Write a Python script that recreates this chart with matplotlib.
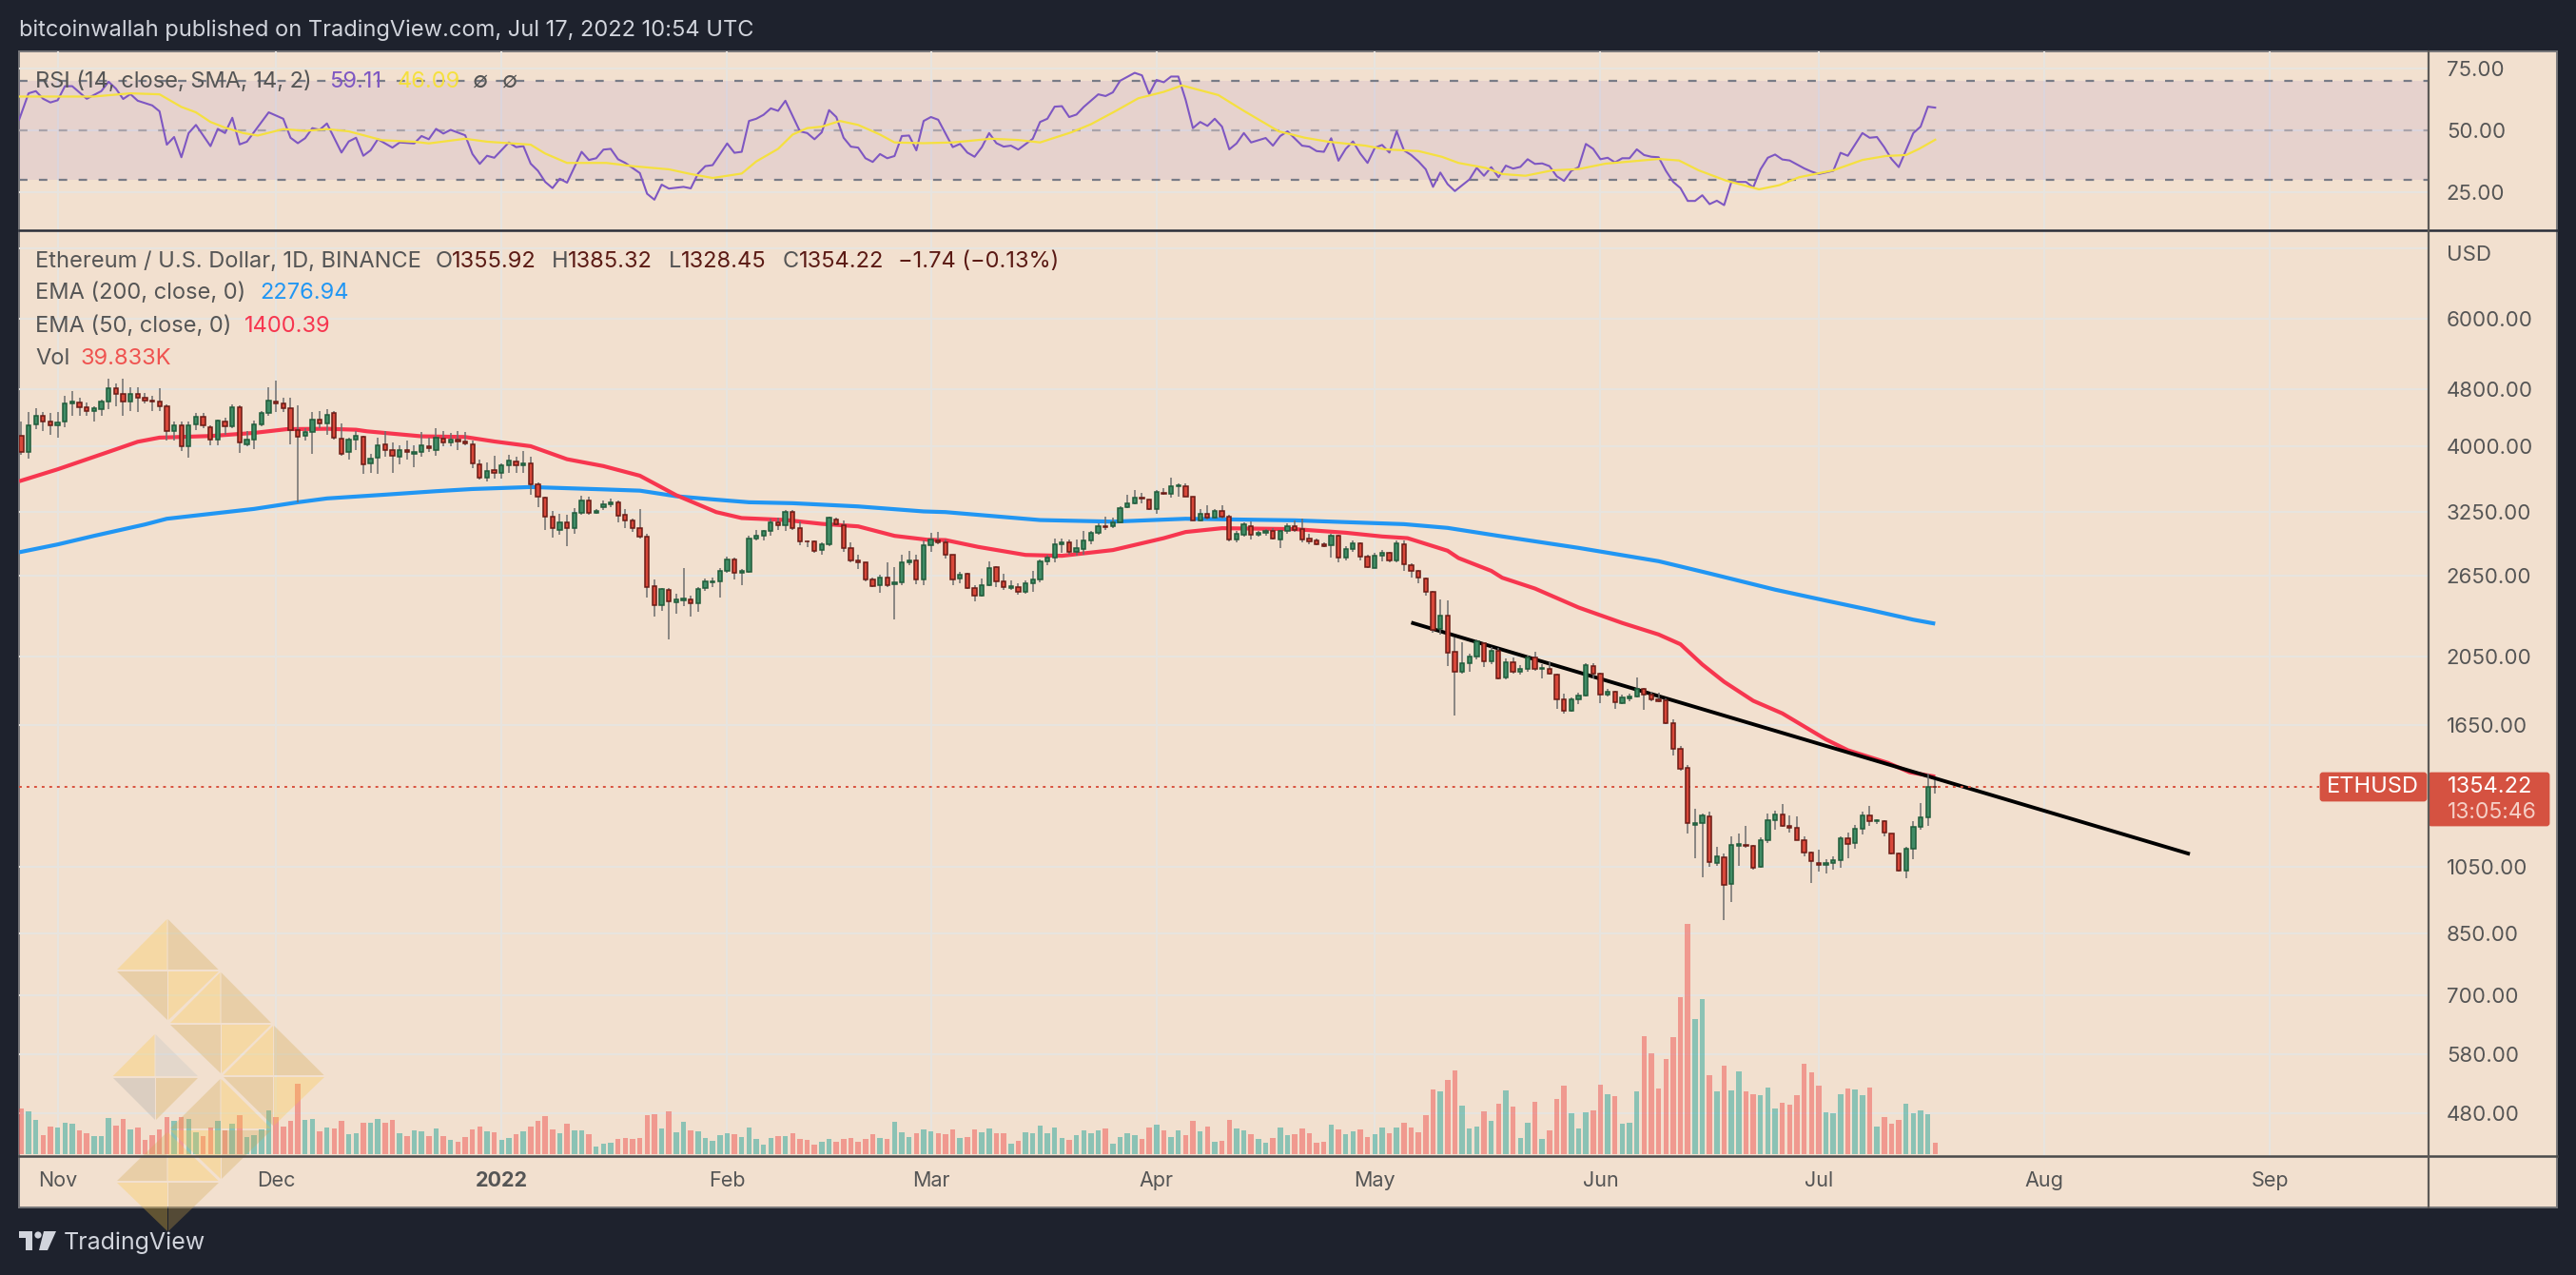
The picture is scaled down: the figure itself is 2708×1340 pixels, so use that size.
import matplotlib
matplotlib.use("Agg")
import matplotlib.pyplot as plt
from matplotlib.patches import Polygon, Rectangle, FancyBboxPatch, Circle

W, H = 2708, 1340

# days counted from 2021-11-01
days = list(range(-5, 259))
opens = [4134, 3927, 4290, 4413, 4326,
    4282, 4326, 4586, 4595, 4526, 4471, 4503, 4609, 4809, 4722,
    4619, 4722, 4665, 4632, 4619, 4549, 4205, 4282, 3998, 4295,
    4400, 4255, 4084, 4334, 4269, 4526, 4030, 4092, 4295, 4444,
    4619, 4582, 4512, 4217, 4134, 4188, 4352, 4299, 4444, 4105,
    3927, 4084, 4121, 3787, 3856, 4022, 3959, 3868, 3959, 3910,
    3935, 4006, 3959, 4105, 4047, 4092, 4068, 4022, 3783, 3622,
    3708, 3674, 3765, 3817, 3765, 3787, 3544, 3397, 3195, 3071,
    3146, 3084, 3243, 3367, 3234, 3302, 3326, 3346, 3217, 3159,
    3084, 3001, 2569, 2413, 2538, 2435, 2453, 2460, 2428, 2548,
    2600, 2603, 2690, 2791, 2680, 2688, 2988, 3010, 3053, 3143,
    3117, 3246, 3081, 2956, 2953, 2877, 2930, 3175, 3117, 2892,
    2783, 2763, 2619, 2571, 2635, 2582, 2597, 2766, 2783, 2619,
    2921, 2970, 2947, 2833, 2627, 2667, 2548, 2490, 2574, 2729,
    2603, 2548, 2561, 2516, 2587, 2619, 2774, 2813, 2933, 2947,
    2857, 2886, 2962, 3037, 3108, 3102, 3146, 3295, 3336, 3401,
    3377, 3276, 3448, 3445, 3519, 3519, 3404, 3165, 3227, 3192,
    3256, 3198, 2979, 3025, 3108, 3019, 3037, 3053, 2979, 3056,
    3102, 3078, 2982, 2964, 2930, 2918, 3010, 2805, 2883, 2938,
    2816, 2721, 2825, 2848, 2783, 2935, 2741, 2690, 2632, 2518,
    2236, 2335, 2080, 1954, 2008, 2051, 2140, 2018, 2090, 1917,
    2016, 1952, 1971, 2042, 1971, 1975, 1936, 1788, 1726, 1788,
    1811, 1993, 1940, 1817, 1832, 1771, 1798, 1805, 1853, 1815,
    1789, 1786, 1658, 1528, 1439, 1201, 1208, 1235, 1064, 1083,
    995, 1125, 1128, 1125, 1050, 1145, 1221, 1240, 1198, 1191,
    1145, 1100, 1065, 1058, 1065, 1075, 1151, 1133, 1186, 1238,
    1214, 1216, 1168, 1096, 1040, 1114, 1195, 1232, 1355.92]
highs = [4326, 4457, 4512, 4457, 4448,
    4457, 4698, 4770, 4665, 4596, 4549, 4642, 4960, 4880, 4960,
    4833, 4822, 4746, 4698, 4809, 4573, 4326, 4326, 4326, 4448,
    4448, 4282, 4361, 4378, 4573, 4559, 4196, 4347, 4480, 4822,
    4930, 4665, 4665, 4559, 4238, 4457, 4480, 4503, 4480, 4308,
    4113, 4196, 4134, 3911, 4113, 4196, 4051, 4010, 4072, 4010,
    4188, 4113, 4238, 4196, 4175, 4196, 4188, 4072, 3840, 3802,
    3883, 3787, 3891, 3872, 3943, 3872, 3565, 3414, 3256, 3230,
    3214, 3289, 3424, 3414, 3279, 3370, 3390, 3363, 3279, 3182,
    3279, 3028, 2619, 2548, 2548, 2506, 2721, 2490, 2561, 2627,
    2635, 2721, 2819, 2811, 2707, 3010, 3071, 3071, 3182, 3192,
    3269, 3269, 3149, 2964, 2964, 2950, 3198, 3192, 3159, 2950,
    2839, 2770, 2635, 2661, 2763, 2727, 2833, 2871, 2839, 2970,
    3040, 3047, 2973, 2839, 2685, 2680, 2574, 2630, 2777, 2735,
    2667, 2614, 2587, 2614, 2693, 2794, 2839, 2985, 2985, 2979,
    2979, 3056, 3056, 3133, 3198, 3192, 3312, 3431, 3482, 3448,
    3380, 3482, 3500, 3626, 3554, 3554, 3411, 3279, 3319, 3279,
    3319, 3214, 3053, 3139, 3149, 3062, 3078, 3087, 3071, 3133,
    3159, 3182, 3028, 2985, 2950, 3034, 3025, 2915, 2964, 2950,
    2839, 2848, 2877, 2862, 2964, 2964, 2760, 2704, 2640, 2526,
    2460, 2450, 2180, 2146, 2073, 2163, 2146, 2115, 2105, 2036,
    2042, 1995, 2057, 2084, 2005, 2022, 1942, 1822, 1800, 1828,
    2007, 2007, 1948, 1852, 1841, 1818, 1822, 1918, 1859, 1833,
    1828, 1795, 1682, 1545, 1454, 1266, 1247, 1253, 1119, 1097,
    1157, 1170, 1196, 1128, 1154, 1247, 1257, 1285, 1239, 1236,
    1157, 1105, 1111, 1077, 1088, 1159, 1173, 1202, 1253, 1276,
    1224, 1221, 1170, 1099, 1119, 1214, 1289, 1414, 1385.32]
lows = [3891, 3852, 4230, 4196, 4155,
    4113, 4255, 4413, 4413, 4413, 4334, 4413, 4503, 4549, 4413,
    4480, 4466, 4586, 4480, 4480, 4080, 4072, 3943, 3864, 4217,
    4238, 4014, 4014, 4146, 4238, 3921, 3998, 3971, 4260, 4413,
    4457, 4457, 4030, 3346, 4072, 3911, 4238, 4155, 4092, 3883,
    3840, 3951, 3670, 3682, 3663, 3872, 3674, 3776, 3832, 3749,
    3872, 3931, 3879, 3998, 3998, 3951, 4010, 3738, 3601, 3580,
    3608, 3608, 3682, 3682, 3682, 3431, 3302, 3071, 2991, 3022,
    2912, 3034, 3214, 3214, 3224, 3269, 3295, 3143, 3087, 3047,
    2988, 2475, 2326, 2375, 2164, 2352, 2406, 2326, 2368, 2528,
    2556, 2475, 2680, 2619, 2577, 2680, 2970, 2964, 3010, 3065,
    3062, 3065, 2921, 2906, 2848, 2839, 2915, 3111, 2857, 2763,
    2707, 2608, 2561, 2511, 2561, 2305, 2577, 2741, 2582, 2577,
    2857, 2927, 2798, 2577, 2587, 2543, 2448, 2480, 2566, 2561,
    2531, 2536, 2496, 2501, 2516, 2600, 2744, 2771, 2848, 2833,
    2827, 2839, 2927, 3025, 3065, 3087, 3133, 3285, 3326, 3340,
    3269, 3224, 3431, 3397, 3414, 3404, 3159, 3149, 3175, 3182,
    3178, 2959, 2950, 3004, 2979, 3001, 3010, 2973, 2892, 3034,
    3047, 2950, 2935, 2921, 2900, 2805, 2771, 2783, 2862, 2783,
    2715, 2715, 2777, 2771, 2771, 2693, 2635, 2587, 2490, 2213,
    2202, 1991, 1698, 1942, 1952, 2032, 1985, 2005, 1909, 1907,
    1942, 1938, 1956, 1962, 1913, 1936, 1738, 1709, 1721, 1765,
    1804, 1913, 1770, 1809, 1738, 1761, 1782, 1800, 1730, 1782,
    1773, 1653, 1499, 1428, 1170, 1080, 1016, 1053, 1054, 887,
    940, 1054, 1117, 1043, 1047, 1133, 1183, 1195, 1173, 1143,
    1088, 998, 1035, 1029, 1041, 1047, 1080, 1113, 1166, 1197,
    1206, 1159, 1093, 1037, 1014, 1076, 1183, 1197, 1328.45]
closes = [3931, 4282, 4413, 4326, 4282,
    4317, 4586, 4609, 4526, 4471, 4512, 4609, 4809, 4722, 4619,
    4722, 4665, 4632, 4619, 4549, 4205, 4282, 3998, 4282, 4400,
    4273, 4084, 4339, 4269, 4526, 4047, 4092, 4295, 4444, 4633,
    4582, 4512, 4217, 4121, 4188, 4352, 4308, 4426, 4109, 3903,
    4084, 4134, 3776, 3852, 4018, 3951, 3879, 3959, 3927, 3935,
    4010, 3975, 4113, 4051, 4092, 4059, 4034, 3787, 3626, 3704,
    3674, 3761, 3828, 3765, 3787, 3544, 3407, 3198, 3081, 3146,
    3084, 3237, 3367, 3237, 3256, 3326, 3346, 3208, 3159, 3084,
    3001, 2561, 2413, 2541, 2443, 2458, 2463, 2428, 2546, 2603,
    2608, 2690, 2791, 2677, 2690, 2988, 3010, 3053, 3139, 3117,
    3246, 3084, 2956, 2953, 2868, 2927, 3188, 3124, 2892, 2783,
    2763, 2619, 2566, 2635, 2577, 2597, 2766, 2783, 2619, 2921,
    2973, 2944, 2833, 2619, 2664, 2548, 2487, 2577, 2721, 2603,
    2556, 2564, 2516, 2587, 2619, 2774, 2813, 2933, 2947, 2857,
    2892, 2962, 3037, 3108, 3099, 3146, 3292, 3333, 3397, 3390,
    3276, 3458, 3438, 3519, 3530, 3407, 3165, 3227, 3188, 3260,
    3198, 2979, 3028, 3124, 3019, 3037, 3056, 2982, 3056, 3102,
    3071, 2979, 2959, 2930, 2915, 3010, 2805, 2886, 2938, 2816,
    2724, 2825, 2850, 2780, 2938, 2749, 2690, 2635, 2518, 2232,
    2339, 2075, 1954, 2008, 2051, 2153, 2020, 2090, 1913, 2016,
    1952, 1973, 2045, 1971, 1981, 1942, 1789, 1726, 1788, 1811,
    1995, 1940, 1817, 1832, 1773, 1800, 1805, 1853, 1815, 1789,
    1782, 1658, 1530, 1435, 1209, 1209, 1238, 1068, 1087, 993,
    1128, 1129, 1125, 1047, 1145, 1221, 1240, 1198, 1191, 1145,
    1099, 1071, 1058, 1065, 1074, 1151, 1131, 1186, 1239, 1216,
    1218, 1171, 1097, 1040, 1114, 1195, 1232, 1356, 1354.22]
# volume in thousands
volumes = [157, 146, 118, 65, 95,
    92, 108, 105, 82, 72, 62, 62, 124, 98, 121,
    85, 92, 49, 65, 85, 128, 114, 128, 121, 75,
    62, 92, 114, 82, 105, 134, 59, 65, 85, 150,
    128, 95, 114, 242, 118, 121, 78, 92, 88, 114,
    69, 72, 108, 108, 121, 108, 118, 72, 62, 82,
    78, 62, 88, 62, 49, 43, 59, 85, 95, 78,
    75, 49, 56, 69, 78, 95, 114, 131, 85, 72,
    105, 82, 82, 69, 26, 36, 39, 52, 56, 52,
    56, 134, 137, 88, 147, 75, 111, 82, 78, 56,
    46, 65, 72, 69, 59, 92, 52, 33, 56, 62,
    62, 72, 52, 49, 33, 43, 52, 43, 52, 56,
    43, 52, 69, 56, 52, 111, 75, 59, 72, 85,
    78, 72, 69, 85, 56, 59, 85, 75, 88, 72,
    72, 36, 46, 75, 72, 98, 72, 92, 56, 49,
    65, 82, 72, 82, 88, 36, 59, 72, 65, 52,
    92, 101, 82, 59, 82, 65, 114, 78, 95, 43,
    46, 118, 88, 82, 69, 52, 39, 56, 92, 65,
    69, 88, 72, 39, 43, 101, 85, 69, 78, 85,
    59, 69, 92, 72, 92, 108, 92, 75, 134, 222,
    216, 255, 288, 167, 88, 95, 147, 114, 173, 219,
    164, 56, 108, 180, 52, 82, 190, 235, 141, 88,
    144, 150, 239, 206, 199, 105, 108, 216, 405, 347,
    226, 327, 402, 540, 791, 464, 533, 271, 216, 304,
    219, 284, 216, 206, 203, 229, 157, 177, 170, 203,
    311, 281, 235, 144, 141, 206, 226, 222, 203, 229,
    95, 128, 105, 118, 173, 141, 150, 137, 39.833]

ema50_days = [-5.3, 0, 7, 11, 14, 21, 27, 31.5, 37, 41, 42.5, 50, 56, 60, 65, 70, 75, 80, 85, 90.5,
    94, 100, 105, 110, 115, 119.5, 122, 126.5, 133, 138, 145, 152, 155, 160, 170, 177, 182, 185.5,
    191, 192.5, 197, 198.5, 203, 209, 215, 220, 223, 226, 229, 233, 237, 243, 246, 251.5, 254.5, 258]
ema50_vals = [3580, 3719, 3931, 4059, 4113, 4134, 4175, 4225, 4230, 4217, 4196, 4130, 4121, 4063, 4002, 3840, 3757, 3644, 3425, 3246,
    3185, 3166, 3127, 3102, 3010, 2973, 2970, 2906, 2833, 2825, 2877, 2988, 3047, 3084, 3075, 3040, 3004, 2988,
    2871, 2805, 2693, 2635, 2546, 2397, 2282, 2200, 2133, 2000, 1893, 1782, 1712, 1576, 1523, 1463, 1420, 1400.39]
ema200_days = [-5.3, 0, 5, 12, 15, 27, 33, 37, 45, 52, 57, 65, 75, 80, 85, 90, 95, 101, 110, 119, 122,
    135, 145, 155, 170, 185, 191, 198, 209, 220, 227, 236, 243, 249, 255, 258]
ema200_vals = [2857, 2929, 3010, 3121, 3178, 3279, 3349, 3390, 3431, 3469, 3493, 3515, 3489, 3475, 3414, 3380, 3349, 3339, 3305, 3253, 3246,
    3165, 3149, 3178, 3162, 3124, 3087, 3010, 2897, 2777, 2671, 2537, 2450, 2379, 2306, 2276.94]
trend_days = [186, 293]
trend_vals = [2285, 1095]

rsi_days = [-5.3, -4, -3, -2, -1, 0, 1, 2, 4, 6, 7, 8, 9, 10, 11, 13, 14, 15, 16, 17, 18, 19, 21, 22, 23, 24, 25, 26, 29,
    31, 32, 33, 34, 35, 36, 37, 39, 40, 41, 42, 43, 44, 46, 47, 49, 50, 51, 52, 53, 54, 56, 57, 58, 59, 60, 62, 63, 64,
    65, 66, 67, 68, 69, 70, 72, 73, 74, 75, 76, 77, 78, 80, 81, 82, 83, 84, 86, 87, 88, 89, 90, 92, 93, 94, 95, 96, 97,
    98, 99, 100, 102, 103, 104, 105, 106, 107, 108, 109, 110, 111, 112, 113, 114, 115, 116, 117, 118, 119, 120, 121, 123,
    124, 125, 126, 127, 128, 129, 130, 131, 132, 134, 135, 136, 137, 138, 139, 140, 141, 143, 144, 145, 146, 148, 149,
    150, 151, 152, 153, 154, 155, 156, 157, 158, 159, 160, 161, 162, 163, 164, 166, 167, 168, 169, 171, 172, 173, 174,
    175, 176, 177, 178, 179, 180, 181, 182, 183, 184, 185, 186, 187, 188, 189, 190, 191, 192, 194, 195, 196, 197, 198,
    199, 200, 201, 202, 203, 204, 205, 206, 207, 208, 209, 210, 211, 212, 213, 214, 215, 216, 217, 218, 219, 220, 221,
    222, 223, 224, 225, 226, 227, 228, 229, 230, 232, 233, 234, 235, 236, 237, 238, 240, 241, 242, 244, 245, 246, 248,
    249, 250, 251, 252, 253, 255, 256, 257, 258]
rsi_vals = [54.2, 64.9, 65.8, 62.7, 61.2, 62.1, 67.8, 67.8, 62.7, 65.8, 69.6, 66.8, 62.6, 64.6, 61.9, 60, 57.6, 44.1, 47.2, 39, 48.8, 52.1, 43.5, 50.5, 48.8, 55, 44.2, 45.3, 57.2,
    54.6, 46.9, 44.7, 46.7, 50.8, 50.1, 52.7, 40.9, 45.4, 46.9, 39.6, 41.8, 46.3, 42.9, 45, 44.6, 47.6, 46.3, 50.5, 48.6, 50.1, 47.9, 40.3, 36.3, 39.6, 38.8, 45, 43.1, 43.5,
    36.4, 33.5, 29, 26.5, 30.3, 28.7, 41.2, 37.9, 38.6, 42.1, 42.4, 38.2, 36.7, 32.6, 24.2, 21.8, 27.9, 26.3, 27, 26.4, 32.4, 35.4, 35.8, 44.6, 40.8, 41.2, 53.7, 54.6, 56.2,
    58.8, 57.8, 61.9, 49.5, 48.8, 46.3, 49.1, 58.1, 55.3, 46.9, 43.3, 42.9, 38.6, 37.1, 40.3, 38.6, 39.5, 47.6, 47.8, 41.8, 53.7, 55.3, 54.2, 43.1,
    44.4, 40.9, 39.2, 43.1, 48.8, 44.7, 43.3, 43.7, 42.1, 46.5, 53.3, 54.6, 59.5, 59.7, 55.3, 56.3, 59.4, 64.5, 63.8, 65.3, 70, 73.2, 72.2,
    64.6, 70.3, 69.4, 71.7, 71.7, 62.3, 50.8, 53.3, 51.7, 54.6, 51.4, 42.2, 44.6, 48.8, 45, 46.8, 43.7, 47.6, 49.5, 43.7, 43.3, 41.5, 41.2,
    46.7, 37.6, 42.4, 45.4, 40.5, 36.7, 42.8, 44, 40.9, 49.5, 41.8, 39.9, 37.3, 34.1, 27, 32.8, 28.1, 25.3, 30, 34.7, 31.5, 35, 30.9,
    35.6, 34.4, 35.1, 38.2, 36.3, 36.5, 35.4, 31.3, 29.4, 33.5, 35, 44.4, 42.4, 38.2, 38.8, 36.9, 38.6, 38.6, 42.2, 39.9, 39.2, 39, 33.5,
    29, 26.5, 21.3, 21.3, 23.6, 20, 21.4, 19.6, 29, 29, 26.8, 34.1, 38.8, 40.1, 38.1, 37.7, 34.5, 33.2, 32.2, 33.5, 40.8, 39.6, 48.8,
    46.9, 47.2, 43.1, 38.3, 35, 48.8, 51.4, 59.5, 59.11]
rsi_ma_days = [-5.3, -1, 5, 10, 14, 17, 19, 21, 23, 25.5, 27.5, 31, 34, 37, 40, 44.6, 49, 51, 56, 59, 65, 67, 70, 75.4, 79, 84, 87, 90, 94, 96, 99,
    101, 103, 105, 107.5, 110, 113, 115, 119, 123, 128.3, 132, 135, 139.3, 142, 145.3, 148.5, 152, 154.5, 159.5, 163, 167.8, 171.4, 174.6,
    179.7, 182.4, 187, 190.2, 192.5, 196.2, 198.5, 201.7, 205.4, 209, 212.7, 220, 222.8, 225.5, 229.2, 233.8, 236.6, 239.3, 244, 248, 251.2, 254, 255.8, 258]
rsi_ma_vals = [63.6, 63.6, 63.6, 64.9, 64.5, 59.4, 57.2, 53.3, 51, 48.8, 47.8, 50.4, 49.7, 50.4, 49.5, 45.9, 45.3, 44.6, 46.5, 45.3, 44.1, 40.5, 36.7, 36.7, 35.4, 34.1, 32.2, 30.6, 32.4, 37.3, 42.4,
    48.2, 50.8, 51.4, 53.7, 52.1, 48.2, 45, 44.7, 45, 46.5, 46, 45, 49.1, 52.4, 57.6, 62.9, 65.5, 68.1, 64.2, 57.8, 49.5, 46.9, 45.3,
    43.7, 42.2, 41.5, 39.2, 36.7, 34.7, 32.2, 31.5, 33.7, 34.2, 36.4, 38.3, 37.7, 33.7, 29.6, 26, 27.7, 30.9, 33.7, 37.9, 39.5, 39.9, 42.4, 46.09]

price_ticks = [7500, 6000, 4800, 4000, 3250, 2650, 2050, 1650, 1050, 850, 700, 580, 480]
price_labels = ["", "6000.00", "4800.00", "4000.00", "3250.00", "2650.00", "2050.00", "1650.00",
                "1050.00", "850.00", "700.00", "580.00", "480.00"]
rsi_ticks = [75, 50, 25]
rsi_labels = ["75.00", "50.00", "25.00"]
month_days = [0, 30, 61, 92, 120, 151, 181, 212, 242, 273, 304]
month_labels = ["Nov", "Dec", "2022", "Feb", "Mar", "Apr", "May", "Jun", "Jul", "Aug", "Sep"]

BG = "#1e222d"
PANE = "#f2e0cf"
GRID = "#e7e4df"
TXT = "#555555"
UP_FILL, UP_EDGE = "#418c66", "#1f5c3a"
DN_FILL, DN_EDGE = "#d8483a", "#6b1a14"
FONT = ["Inter", "DejaVu Sans"]
plt.rcParams["font.family"] = FONT

X_MIN, X_MAX = -5.31, 325.8
AXIS_SIZE = 16
LEGEND_SIZE = 17


def px_axes(fig, left, top, right, bottom, z):
    return fig.add_axes([left / W, 1 - bottom / H, (right - left) / W, (bottom - top) / H], zorder=z)


def draw_candles(ax):
    ax.vlines(days, lows, highs, color="#6e6e6e", lw=1.1, zorder=4)
    for d, o, c in zip(days, opens, closes):
        up = c >= o
        ax.bar(d, abs(c - o), bottom=min(o, c), width=0.56, color=UP_FILL if up else DN_FILL,
               edgecolor=UP_EDGE if up else DN_EDGE, lw=1.1, zorder=5)


fig = plt.figure(figsize=(W / 100, H / 100), dpi=100, facecolor=BG)

# pane background and frame
back = fig.add_axes([0, 0, 1, 1], zorder=0)
back.set_xlim(0, W)
back.set_ylim(H, 0)
back.axis("off")
back.add_patch(Rectangle((20, 54), 2668, 1215, fc=PANE, ec="#77777a", lw=1.4))

# RSI pane
ax_rsi = px_axes(fig, 20, 54, 2553, 241, 1)
ax_rsi.patch.set_alpha(0)
ax_rsi.set_xlim(X_MIN, X_MAX)
ax_rsi.set_ylim(9.8, 81.9)
ax_rsi.axhspan(30, 70, color="#7e57c2", alpha=0.1, lw=0, zorder=1)
ax_rsi.hlines([70, 30], X_MIN, X_MAX, color="#787b86", lw=1.6, linestyles=[(0, (4.0, 5.4))], zorder=2)
ax_rsi.hlines(50, X_MIN, X_MAX, color="#a9a3aa", lw=1.6, linestyles=[(0, (4.0, 5.4))], zorder=2)
ax_rsi.plot(rsi_days, rsi_vals, color="#7e57c2", lw=1.5, zorder=3)
ax_rsi.plot(rsi_ma_days, rsi_ma_vals, color="#f5e03f", lw=1.6, zorder=4)
ax_rsi.set_yticks(rsi_ticks)
ax_rsi.set_yticklabels(rsi_labels)
ax_rsi.set_xticks(month_days)
ax_rsi.set_xticklabels([])
ax_rsi.yaxis.tick_right()
ax_rsi.tick_params(length=0, labelsize=AXIS_SIZE, labelcolor=TXT, pad=13.5)
ax_rsi.grid(True, color=GRID, lw=1.5, zorder=0)
ax_rsi.set_axisbelow(True)
for s in ax_rsi.spines.values():
    s.set_visible(False)

# price pane
ax = px_axes(fig, 20, 243, 2553, 1214.5, 2)
ax.patch.set_alpha(0)
ax.set_xlim(X_MIN, X_MAX)
ax.set_yscale("log")
ax.set_ylim(420, 7925)
ax.set_yticks(price_ticks)
ax.set_yticklabels(price_labels)
ax.minorticks_off()
ax.set_xticks(month_days)
ax.set_xticklabels(month_labels)
ax.yaxis.tick_right()
ax.tick_params(length=0, labelsize=AXIS_SIZE, labelcolor=TXT)
ax.tick_params(axis="y", pad=13.5)
ax.tick_params(axis="x", pad=12, labelsize=15.5)
ax.get_xticklabels()[2].set_fontweight("bold")
ax.grid(True, color=GRID, lw=1.5, zorder=0)
ax.set_axisbelow(True)
for s in ax.spines.values():
    s.set_visible(False)
ax.plot(ema200_days, ema200_vals, color="#2196f3", lw=3, zorder=2, solid_capstyle="butt")
ax.plot(ema50_days, ema50_vals, color="#f7364f", lw=3, zorder=2, solid_capstyle="butt")
ax.plot(trend_days, trend_vals, color="black", lw=2.8, zorder=3, solid_capstyle="butt")
ax.hlines(closes[-1], X_MIN, 310.8, color="#d9523f", lw=1.4, linestyles=[(0, (1.5, 2.6))], zorder=3)
draw_candles(ax)

# volume on its own scale, along the bottom of the price pane
ax_vol = px_axes(fig, 20, 243, 2553, 1214.5, 3)
ax_vol.patch.set_alpha(0)
ax_vol.set_xlim(X_MIN, X_MAX)
ax_vol.set_ylim(-5, 3172)
ax_vol.axis("off")
vol_colors = ["#26a69a" if c >= o else "#ef5350" for o, c in zip(opens, closes)]
ax_vol.bar(days, volumes, width=0.72, color=vol_colors, alpha=0.5, lw=0)

# overlay in pixel coordinates: dividers, legend, tags, watermark
ov = fig.add_axes([0, 0, 1, 1], zorder=10)
ov.set_xlim(0, W)
ov.set_ylim(H, 0)
ov.axis("off")
ov.patch.set_alpha(0)
ov.plot([20, 2688], [241.5, 241.5], color="#2a2e39", lw=1.8)
ov.plot([20, 2688], [1214.5, 1214.5], color="#4a4a4a", lw=1.8)
ov.plot([2553, 2553], [54, 1269], color="#5d5a57", lw=1.6)


def label(x, y, s, color=TXT, size=LEGEND_SIZE, **kw):
    ov.text(x, y, s, color=color, fontsize=size, va="center", ha=kw.pop("ha", "left"), **kw)


label(20, 32, "bitcoinwallah published on TradingView.com, Jul 17, 2022 10:54 UTC", color="#d1d4dc", size=17)
label(37, 86, "RSI (14, close, SMA, 14, 2)")
label(346, 86, "59.11", color="#7e57c2")
label(418, 86, "46.09", color="#f5e03f")
label(497, 86, "∅")
label(528, 86, "∅")
label(37, 275, "Ethereum / U.S. Dollar, 1D, BINANCE")
val_red = "#5b1a14"
for x, s, col in [(458, "O", TXT), (475, "1355.92", val_red), (580, "H", TXT), (597, "1385.32", val_red),
                  (703, "L", TXT), (716, "1328.45", val_red), (823, "C", TXT), (840, "1354.22", val_red),
                  (944, "−1.74 (−0.13%)", val_red)]:
    label(x, 275, s, color=col)
label(37, 308, "EMA (200, close, 0)")
label(273, 308, "2276.94", color="#2196f3")
label(37, 343, "EMA (50, close, 0)")
label(257, 343, "1400.39", color="#f7364f")
label(37, 377, "Vol")
label(85, 377, "39.833K", color="#ef5350")
label(2572, 268, "USD", size=AXIS_SIZE)

tag = "#d55241"
ov.add_patch(FancyBboxPatch((2440, 813), 110, 28, boxstyle="round,pad=0,rounding_size=2", fc=tag, ec=tag, lw=2))
ov.add_patch(FancyBboxPatch((2554, 813), 125, 54, boxstyle="round,pad=0,rounding_size=2", fc=tag, ec=tag, lw=2))
label(2494, 827, "ETHUSD", color="white", ha="center")
label(2573, 827, "1354.22", color="white")
label(2573, 853.5, "13:05:46", color="#f5cfc6", size=16.5)

# TradingView mark
logo = "#d1d4dc"
ov.add_patch(Polygon([(20, 1294), (34, 1294), (34, 1314), (27, 1314), (27, 1301), (20, 1301)], fc=logo, lw=0))
ov.add_patch(Circle((40, 1298), 3.6, fc=logo, lw=0))
ov.add_patch(Polygon([(46, 1294), (59, 1294), (50, 1314), (41, 1314)], fc=logo, lw=0))
label(67, 1306, "TradingView", color=logo, size=18)

# watermark diamonds
YEL, TAN = "#fdc843", "#d2a74d"
GR1, GR2 = "#c1c5c5", "#a7a7a3"
diamonds = [
    (176, 966, 123, 229.6, 1020, 1072, (YEL, TAN, TAN, YEL)),
    (232, 1022, 179, 285, 1076, 1128, (YEL, TAN, TAN, YEL)),
    (287.6, 1078, 234.7, 340.6, 1131, 1183, (YEL, TAN, TAN, YEL)),
    (232, 1134, 179, 285, 1187, 1239, (TAN, YEL, YEL, TAN)),
    (176, 1190, 123, 229.6, 1242, 1294, (TAN, YEL, YEL, TAN)),
    (163, 1087, 118.6, 208, 1132, 1177, (YEL, GR1, GR2, TAN)),
]
for cx, top, left, right, mid, bot, cols in diamonds:
    quads = [
        [(cx - 0.5, top), (left, mid - 1), (cx - 0.5, mid - 1)],
        [(cx + 0.5, top), (right, mid - 1), (cx + 0.5, mid - 1)],
        [(left, mid + 1), (cx - 0.5, mid + 1), (cx - 0.5, bot)],
        [(right, mid + 1), (cx + 0.5, mid + 1), (cx + 0.5, bot)],
    ]
    for q, col in zip(quads, cols):
        ov.add_patch(Polygon(q, fc=col, alpha=0.3, lw=0))

fig.savefig("out.png", dpi=100, facecolor=BG)
